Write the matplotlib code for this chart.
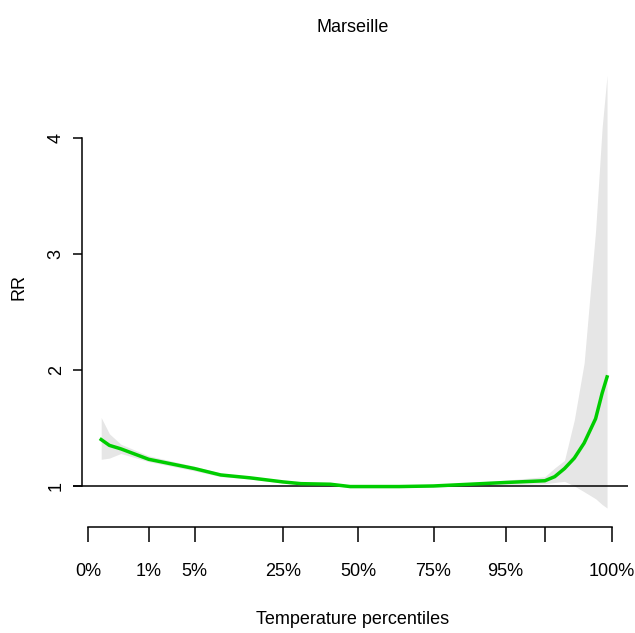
import matplotlib.pyplot as plt
from matplotlib import font_manager

# -------------------------- 字体 --------------------------
names = {f.name for f in font_manager.fontManager.ttflist}
fam = 'Liberation Sans Narrow' if 'Liberation Sans Narrow' in names else 'Liberation Sans'
plt.rcParams['font.family'] = [fam, 'DejaVu Sans']

# -------------------------- 数据 --------------------------
# temperature (deg C) where the curve was evaluated
temp = [-1.2, -0.7, 0.0, 1.7, 4.5, 6.1, 7.9, 9.9, 11.0, 12.8, 14.0, 17.0,
        19.1, 21.3, 23.5, 25.9, 26.5, 27.1, 27.7, 28.3, 29.0, 29.4, 29.7]
rr = [1.40, 1.35, 1.32, 1.23, 1.15, 1.095, 1.07, 1.035, 1.02, 1.015, 0.995, 0.995,
      1.00, 1.015, 1.03, 1.045, 1.08, 1.15, 1.24, 1.37, 1.58, 1.80, 1.94]
rr_high = [1.59, 1.45, 1.36, 1.26, 1.17, 1.11, 1.08, 1.045, 1.03, 1.02, 1.005, 1.005,
           1.01, 1.03, 1.05, 1.08, 1.155, 1.22, 1.57, 2.06, 3.20, 4.09, 4.54]
rr_low = [1.23, 1.24, 1.28, 1.21, 1.13, 1.08, 1.06, 1.025, 1.01, 1.01, 0.985, 0.985,
          0.99, 1.0, 1.01, 1.02, 1.03, 1.04, 1.0, 0.95, 0.89, 0.84, 0.81]

# temperature percentiles used as x ticks
pct_temp = [-2.0, 1.7, 4.5, 9.9, 14.5, 19.1, 23.5, 25.9, 30.0]
pct_labels = ['0%', '1%', '5%', '25%', '50%', '75%', '95%', '', '100%']
rr_ticks = [1, 2, 3, 4]

# -------------------------- 绘图 --------------------------
fig = plt.figure(figsize=(6.35, 6.33), dpi=100)
ax = fig.add_axes([0.115, 0.1675, 0.874, 0.7378])

ax.fill_between(temp, rr_low, rr_high, color='#e6e6e6', lw=0, zorder=1)
ax.axhline(1, color='black', lw=1.1, zorder=2)
ax.plot(temp, rr, color='#00cd00', lw=2.5, zorder=3)

ax.set_xlim(-2.92, 30.98)
ax.set_ylim(0.6466, 4.672)

for s in ['top', 'right']:
    ax.spines[s].set_visible(False)
ax.spines['left'].set_position(('data', -2.37))
ax.spines['left'].set_bounds(1, 4)
ax.spines['bottom'].set_bounds(-2, 30)
for s in ['left', 'bottom']:
    ax.spines[s].set_linewidth(1.1)

ax.set_yticks(rr_ticks)
ax.set_yticklabels([str(v) for v in rr_ticks], rotation=90, va='center')
ax.set_xticks(pct_temp)
ax.set_xticklabels(pct_labels)
ax.tick_params(axis='y', length=6.5, width=1.1, pad=6, labelsize=13)
ax.tick_params(axis='x', length=10.8, width=1.1, pad=15, labelsize=13)

# 标题和坐标轴标签
fig.text(353 / 635, 1 - 28 / 633, 'Marseille', fontsize=13, ha='center', va='center')
fig.text(19 / 635, 1 - 287 / 633, 'RR', fontsize=13, rotation=90,
         ha='center', va='center')
fig.text(353 / 635, 1 - 620 / 633, 'Temperature percentiles', fontsize=13,
         ha='center', va='center')

plt.savefig('out.png', dpi=100)
